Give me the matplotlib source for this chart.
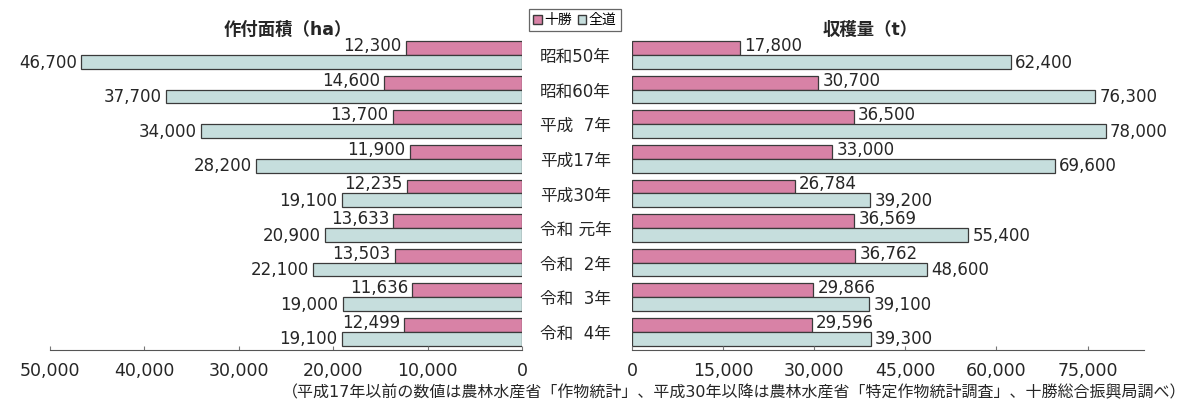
import numpy as np
import matplotlib; matplotlib.use("Agg")
import matplotlib.pyplot as plt
from matplotlib.patches import Patch

years = ["昭和50年", "昭和60年", "平成  7年", "平成17年", "平成30年",
         "令和 元年", "令和  2年", "令和  3年", "令和  4年"]
area_tokachi = [12300, 14600, 13700, 11900, 12235, 13633, 13503, 11636, 12499]
area_hokkaido = [46700, 37700, 34000, 28200, 19100, 20900, 22100, 19000, 19100]
yield_tokachi = [17800, 30700, 36500, 33000, 26784, 36569, 36762, 29866, 29596]
yield_hokkaido = [62400, 76300, 78000, 69600, 39200, 55400, 48600, 39100, 39300]
area_ticks = [50000, 40000, 30000, 20000, 10000, 0]
yield_ticks = [0, 15000, 30000, 45000, 60000, 75000]

PINK = "#d882a6"
BLUE = "#c6dedd"
EDGE = "#3a3a3a"
TXT = "#262626"
FONT = ["DejaVu Sans", "Noto Sans CJK JP"]
plt.rcParams["font.family"] = FONT

W, H = 1192, 411
ROW0, STEP = 55, 34.6   # pixel centre of first row, row spacing
fig = plt.figure(figsize=(W / 100, H / 100), dpi=100)
bot, top = 1 - 350 / H, 1 - 35 / H
axL = fig.add_axes([50 / W, bot, 472 / W, top - bot])
axR = fig.add_axes([632 / W, bot, 512 / W, top - bot])

y = np.arange(len(years))
bh = 0.40
fmt = lambda v: f"{v:,}"
n = len(years)
ylim = (n - 1 + (350 - (ROW0 + (n - 1) * STEP)) / STEP, -(ROW0 - 35) / STEP)

for ax, tk, hk, ticks, lim, side in [
        (axL, area_tokachi, area_hokkaido, area_ticks, (50000, 0), -1),
        (axR, yield_tokachi, yield_hokkaido, yield_ticks, (0, 84300), 1)]:
    ax.barh(y - bh / 2, tk, height=bh, color=PINK, edgecolor=EDGE, linewidth=0.9)
    ax.barh(y + bh / 2, hk, height=bh, color=BLUE, edgecolor=EDGE, linewidth=0.9)
    ha = "left" if side > 0 else "right"
    for i in range(n):
        ax.annotate(fmt(tk[i]), (tk[i], y[i] - bh / 2 - 0.06), xytext=(3 * side, 0),
                    textcoords="offset points", ha=ha, va="center", fontsize=12, color=TXT)
        ax.annotate(fmt(hk[i]), (hk[i], y[i] + bh / 2 + 0.02), xytext=(3 * side, 0),
                    textcoords="offset points", ha=ha, va="center", fontsize=12, color=TXT)
    ax.set_xlim(*lim)
    ax.set_ylim(*ylim)
    ax.set_yticks([])
    ax.set_xticks(ticks)
    ax.set_xticklabels([fmt(t) for t in ticks], fontsize=12.5, color=TXT)
    ax.tick_params(axis="x", direction="in", length=3, color="#777", pad=9)
    for s in ["top", "left", "right"]:
        ax.spines[s].set_visible(False)
    ax.spines["bottom"].set_color("#555")
    ax.patch.set_alpha(0)

# category labels between the two panels
for i, lab in enumerate(years):
    fig.text(540 / W, 1 - (ROW0 + 2 + i * STEP) / H, lab, ha="left", va="center",
             fontsize=12, color=TXT)

fig.text(288 / W, 1 - 30 / H, "作付面積（ha）", ha="center", va="center",
         fontsize=12.5, fontweight="bold", color=TXT)
fig.text(870 / W, 1 - 30 / H, "収穫量（t）", ha="center", va="center",
         fontsize=12.5, fontweight="bold", color=TXT)

leg = fig.legend(handles=[Patch(facecolor=PINK, edgecolor=EDGE, label="十勝"),
                          Patch(facecolor=BLUE, edgecolor=EDGE, label="全道")],
                 loc="center", bbox_to_anchor=(575 / W, 1 - 20 / H), ncol=2,
                 fontsize=10, handlelength=0.6, handleheight=0.6, handletextpad=0.2,
                 columnspacing=0.4, borderpad=0.3, fancybox=False, edgecolor="#666",
                 framealpha=1)
leg.get_frame().set_linewidth(0.9)

fig.text(1186 / W, 1 - 393 / H,
         "（平成17年以前の数値は農林水産省「作物統計」、平成30年以降は農林水産省「特定作物統計調査」、十勝総合振興局調べ）",
         ha="right", va="center", fontsize=11.5, color=TXT)

fig.savefig("out.png", dpi=100)
